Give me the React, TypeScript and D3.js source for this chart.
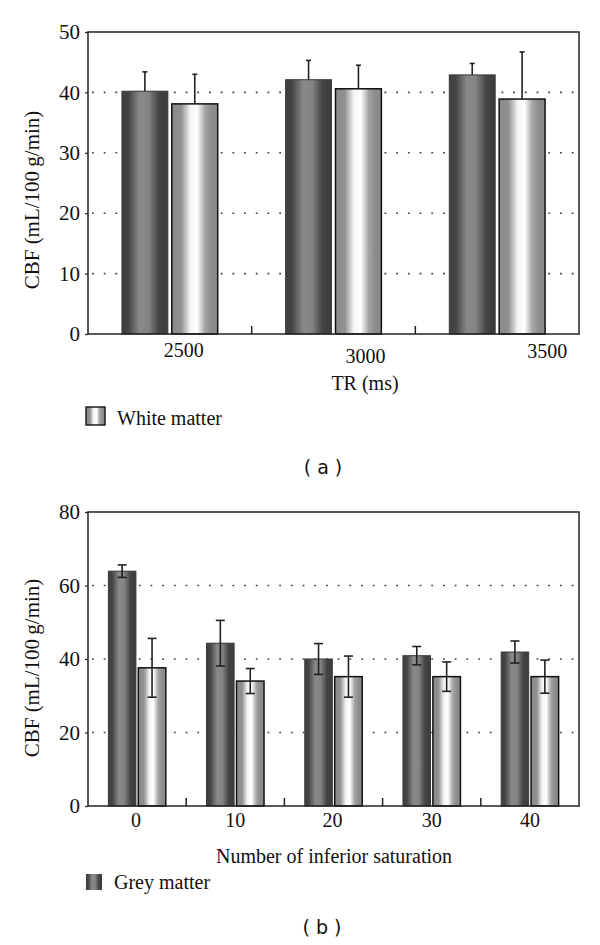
import { useEffect, useRef } from 'react'
import * as d3 from 'd3'

// Panel (a): CBF vs TR
const trLabels = ['2500', '3000', '3500']
const greyTR = [40.2, 42.1, 42.9]
const greyTRErr = [3.2, 3.2, 1.9]
const whiteTR = [38.1, 40.6, 38.9]
const whiteTRErr = [4.9, 3.9, 7.8]
const ticksTR = [0, 10, 20, 30, 40, 50]

// Panel (b): CBF vs number of inferior saturation
const satLabels = ['0', '10', '20', '30', '40']
const greySat = [63.9, 44.3, 40.0, 40.9, 41.9]
const greySatErr = [1.7, 6.2, 4.2, 2.5, 3.0]
const whiteSat = [37.6, 34.0, 35.2, 35.2, 35.2]
const whiteSatErr = [8.0, 3.4, 5.6, 4.0, 4.5]
const ticksSat = [0, 20, 40, 60, 80]

const SERIF = '"Liberation Serif", "Times New Roman", serif'
const SANS = '"DejaVu Sans", sans-serif'
const LEFT = 88
const RIGHT = 579

type Panel = {
  top: number
  bottom: number
  cats: string[]
  grey: number[]
  greyErr: number[]
  white: number[]
  whiteErr: number[]
  ticks: number[]
  bothCaps: boolean
  capW: number
  labelShift: number[]
  labelBase: number[]
  yLabelY: number
  title: string
  titleX: number
  titleY: number
}

function drawPanel(svg: any, p: Panel) {
  const yMax = p.ticks[p.ticks.length - 1]
  const x = d3.scaleBand<string>().domain(p.cats).range([LEFT, RIGHT]).padding(0)
  const y = d3.scaleLinear().domain([0, yMax]).range([p.bottom, p.top])
  const bw = x.bandwidth()
  const inner = d3.scaleBand<string>()
    .domain(['grey', 'white'])
    .range([0, bw * 0.585])
    .paddingInner(0.08)
  const off = bw * 0.2075

  const g = svg.append('g')

  // dotted grid
  g.selectAll('.grid')
    .data(p.ticks.filter(t => t > 0 && t < yMax))
    .enter()
    .append('line')
    .attr('x1', LEFT + 4)
    .attr('x2', RIGHT)
    .attr('y1', d => y(d))
    .attr('y2', d => y(d))
    .attr('stroke', '#444')
    .attr('stroke-width', 1.6)
    .attr('stroke-dasharray', '1.8,9.9')

  const rows = p.cats.flatMap((c, i) => [
    { cat: c, key: 'grey', v: p.grey[i], e: p.greyErr[i] },
    { cat: c, key: 'white', v: p.white[i], e: p.whiteErr[i] },
  ])

  // bars
  g.selectAll('.bar')
    .data(rows)
    .enter()
    .append('rect')
    .attr('x', d => x(d.cat)! + off + inner(d.key)!)
    .attr('width', inner.bandwidth())
    .attr('y', d => y(d.v))
    .attr('height', d => p.bottom - y(d.v))
    .attr('fill', d => d.key === 'grey' ? 'url(#gradGrey)' : 'url(#gradWhite)')
    .attr('stroke', d => d.key === 'grey' ? '#3a3a3a' : '#111')
    .attr('stroke-width', d => d.key === 'grey' ? 1 : 1.5)

  // error bars
  const cx = (d: any) => x(d.cat)! + off + inner(d.key)! + inner.bandwidth() / 2
  const lo = (d: any) => p.bothCaps ? y(d.v - d.e) : y(d.v)
  g.selectAll('.err')
    .data(rows)
    .enter()
    .append('line')
    .attr('x1', cx)
    .attr('x2', cx)
    .attr('y1', lo)
    .attr('y2', d => y(d.v + d.e))
    .attr('stroke', '#222')
    .attr('stroke-width', 1.6)
  g.selectAll('.capTop')
    .data(rows)
    .enter()
    .append('line')
    .attr('x1', d => cx(d) - p.capW / 2)
    .attr('x2', d => cx(d) + p.capW / 2)
    .attr('y1', d => y(d.v + d.e))
    .attr('y2', d => y(d.v + d.e))
    .attr('stroke', '#222')
    .attr('stroke-width', 1.6)
  if (p.bothCaps) {
    g.selectAll('.capBot')
      .data(rows)
      .enter()
      .append('line')
      .attr('x1', d => cx(d) - p.capW / 2)
      .attr('x2', d => cx(d) + p.capW / 2)
      .attr('y1', d => y(d.v - d.e))
      .attr('y2', d => y(d.v - d.e))
      .attr('stroke', '#222')
      .attr('stroke-width', 1.6)
  }

  // frame
  g.append('rect')
    .attr('x', LEFT)
    .attr('y', p.top)
    .attr('width', RIGHT - LEFT)
    .attr('height', p.bottom - p.top)
    .attr('fill', 'none')
    .attr('stroke', '#222')
    .attr('stroke-width', 1.5)

  // y axis
  const ya = g.append('g')
    .attr('transform', `translate(${LEFT},0)`)
    .call(d3.axisLeft(y).tickValues(p.ticks).tickSize(3).tickPadding(5))
  ya.select('.domain').remove()
  ya.selectAll('line').attr('stroke', '#222').attr('stroke-width', 1.2)
  ya.selectAll('text')
    .attr('font-family', SERIF)
    .attr('font-size', 21)
    .attr('fill', '#111')

  // x axis ticks between groups
  g.selectAll('.xtick')
    .data(p.cats.slice(1))
    .enter()
    .append('line')
    .attr('x1', d => x(d)!)
    .attr('x2', d => x(d)!)
    .attr('y1', p.bottom)
    .attr('y2', p.bottom - 8)
    .attr('stroke', '#222')
    .attr('stroke-width', 1.5)

  g.selectAll('.xlabel')
    .data(p.cats)
    .enter()
    .append('text')
    .attr('x', (d, i) => x(d)! + bw / 2 + p.labelShift[i])
    .attr('y', (d, i) => p.labelBase[i])
    .attr('text-anchor', 'middle')
    .attr('font-family', SERIF)
    .attr('font-size', 20)
    .attr('fill', '#111')
    .text(d => d)

  g.append('text')
    .attr('x', p.titleX)
    .attr('y', p.titleY)
    .attr('text-anchor', 'middle')
    .attr('font-family', SERIF)
    .attr('font-size', 20)
    .attr('fill', '#111')
    .text(p.title)

  g.append('text')
    .attr('transform', `translate(39,${p.yLabelY}) rotate(-90)`)
    .attr('text-anchor', 'middle')
    .attr('font-family', SERIF)
    .attr('font-size', 21)
    .attr('fill', '#111')
    .text('CBF (mL/100\u2009g/min)')
}

export default function App() {
  const svgRef = useRef<SVGSVGElement>(null)

  useEffect(() => {
    if (!svgRef.current) return
    const svg = d3.select(svgRef.current)
    svg.selectAll('*').remove()

    const defs = svg.append('defs')
    const gg = defs.append('linearGradient').attr('id', 'gradGrey')
      .attr('x1', 0).attr('x2', 1).attr('y1', 0).attr('y2', 0)
    ;[[0, '#3e3e3e'], [0.14, '#444'], [0.38, '#898989'], [0.58, '#838383'], [0.8, '#444'], [1, '#3c3c3c']]
      .forEach(([o, c]) => gg.append('stop').attr('offset', o as number).attr('stop-color', c as string))
    const gw = defs.append('linearGradient').attr('id', 'gradWhite')
      .attr('x1', 0).attr('x2', 1).attr('y1', 0).attr('y2', 0)
    ;[[0, '#8a8a8a'], [0.2, '#8f8f8f'], [0.4, '#f4f4f4'], [0.55, '#ffffff'], [0.72, '#a6a6a6'], [0.86, '#8c8c8c'], [1, '#8a8a8a']]
      .forEach(([o, c]) => gw.append('stop').attr('offset', o as number).attr('stop-color', c as string))

    drawPanel(svg, {
      top: 32, bottom: 334,
      cats: trLabels, grey: greyTR, greyErr: greyTRErr, white: whiteTR, whiteErr: whiteTRErr,
      ticks: ticksTR, bothCaps: false, capW: 5,
      labelShift: [14, 32, 50], labelBase: [357, 363, 358],
      yLabelY: 200, title: 'TR (ms)', titleX: 365, titleY: 390,
    })
    drawPanel(svg, {
      top: 512, bottom: 806,
      cats: satLabels, grey: greySat, greyErr: greySatErr, white: whiteSat, whiteErr: whiteSatErr,
      ticks: ticksSat, bothCaps: true, capW: 9,
      labelShift: [-1, 0, -1, 0, 0], labelBase: [827, 827, 827, 827, 827],
      yLabelY: 668, title: 'Number of inferior saturation', titleX: 334, titleY: 863,
    })

    // legends
    svg.append('rect').attr('x', 86).attr('y', 407).attr('width', 19).attr('height', 18)
      .attr('fill', 'url(#gradWhite)').attr('stroke', '#111').attr('stroke-width', 1.4)
    svg.append('text').attr('x', 117).attr('y', 425)
      .attr('font-family', SERIF).attr('font-size', 20).attr('fill', '#111').text('White matter')
    svg.append('rect').attr('x', 86).attr('y', 874).attr('width', 16).attr('height', 16)
      .attr('fill', 'url(#gradGrey)')
    svg.append('text').attr('x', 114).attr('y', 889)
      .attr('font-family', SERIF).attr('font-size', 20).attr('fill', '#111').text('Grey matter')

    // panel captions
    svg.append('text').attr('x', 323).attr('y', 474).attr('text-anchor', 'middle')
      .attr('font-family', SANS).attr('font-size', 19).attr('fill', '#111').text('( a )')
    svg.append('text').attr('x', 322).attr('y', 934).attr('text-anchor', 'middle')
      .attr('font-family', SANS).attr('font-size', 19).attr('fill', '#111').text('( b )')
  }, [])

  return (
    <svg
      ref={svgRef}
      width={600}
      height={945}
      style={{ position: 'absolute', left: 0, top: 0, background: '#fff' }}
    />
  )
}
